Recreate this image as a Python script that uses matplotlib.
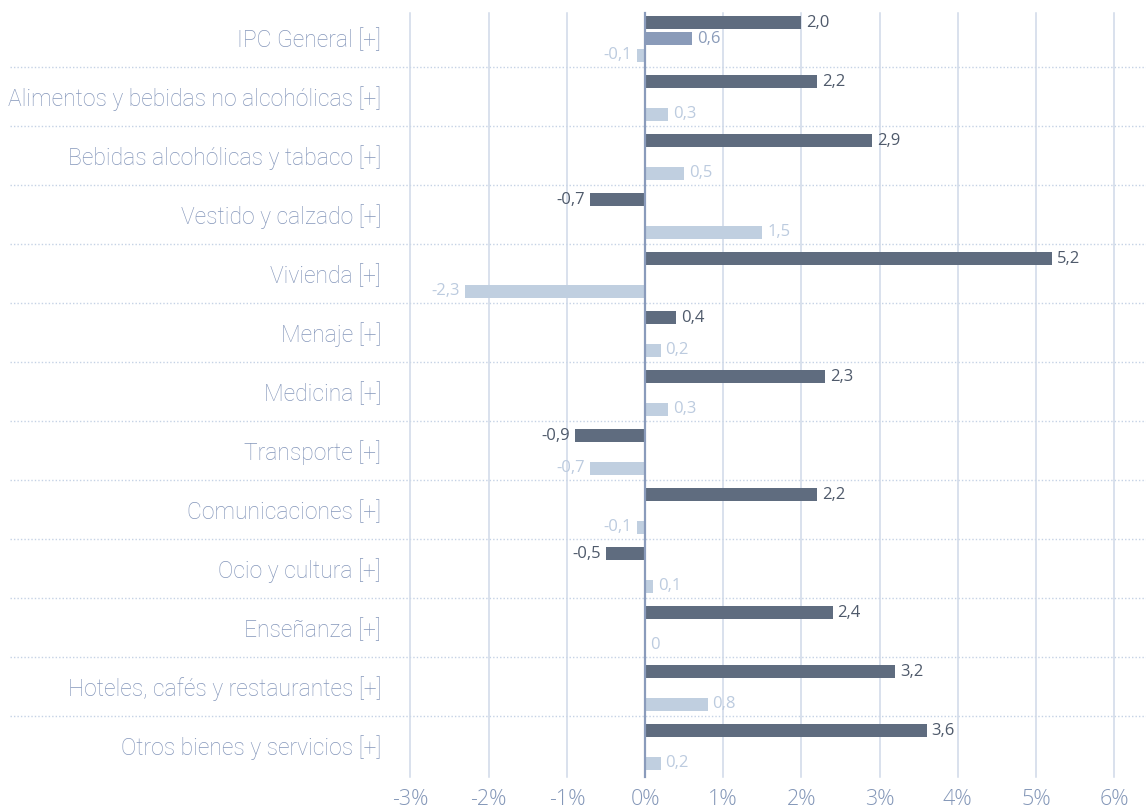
import numpy as np
import matplotlib
matplotlib.use("Agg")
import matplotlib.pyplot as plt
import matplotlib.transforms as mtransforms

plt.rcParams['font.family'] = ['Roboto', 'DejaVu Sans']

categories = [
    "IPC General [+]",
    "Alimentos y bebidas no alcohólicas [+]",
    "Bebidas alcohólicas y tabaco [+]",
    "Vestido y calzado [+]",
    "Vivienda [+]",
    "Menaje [+]",
    "Medicina [+]",
    "Transporte [+]",
    "Comunicaciones [+]",
    "Ocio y cultura [+]",
    "Enseñanza [+]",
    "Hoteles, cafés y restaurantes [+]",
    "Otros bienes y servicios [+]",
]
serie_oscura = [2.0, 2.2, 2.9, -0.7, 5.2, 0.4, 2.3, -0.9, 2.2, -0.5, 2.4, 3.2, 3.6]
serie_media = [0.6, None, None, None, None, None, None, None, None, None, None, None, None]
serie_clara = [-0.1, 0.3, 0.5, 1.5, -2.3, 0.2, 0.3, -0.7, -0.1, 0.1, 0.0, 0.8, 0.2]
x_ticks = [-3, -2, -1, 0, 1, 2, 3, 4, 5, 6]

W, H = 1146, 810
fig = plt.figure(figsize=(W / 100, H / 100), dpi=100)
ax = fig.add_axes([395 / W, 1 - 775 / H, 751 / W, 767 / H])

n = len(categories)
y = np.arange(n)
bar_h = 0.22
series = [
    (serie_oscura, -0.246, '#5f6c7f', '#4f5a6b'),
    (serie_media, 0.025, '#8a9bb9', '#8a9bb9'),
    (serie_clara, 0.305, '#c0cfe0', '#bccbdf'),
]

num_font = ['Open Sans', 'DejaVu Sans']

for vals, off, col, tcol in series:
    for i, v in enumerate(vals):
        if v is None:
            continue
        ax.barh(y[i] + off, v, height=bar_h, color=col, zorder=3)
        txt = f"{v:.1f}".replace('.', ',') if v != 0 else "0"
        if v >= 0:
            ax.annotate(txt, (v, y[i] + off), xytext=(3.5, 0), textcoords='offset points',
                        ha='left', va='center', color=tcol, fontsize=12,
                        family=num_font, zorder=4)
        else:
            ax.annotate(txt, (v, y[i] + off), xytext=(-3.5, 0), textcoords='offset points',
                        ha='right', va='center', color=tcol, fontsize=12,
                        family=num_font, zorder=4)

ax.set_xlim((395 - 645) / 78.2, (1146 - 645) / 78.2)
ax.set_ylim(n - 0.5, -0.5)

# vertical grid
for t in x_ticks:
    if t == 0:
        ax.axvline(0, ymin=-0.003, ymax=0.994, color='#8a9bbb', lw=1.6, zorder=5, clip_on=False)
    else:
        ax.axvline(t, ymin=-0.003, ymax=0.994, color='#cfd9e8', lw=1.1, zorder=1, clip_on=False)

# dotted separators spanning labels
trans = mtransforms.blended_transform_factory(fig.transFigure, ax.transData)
for i in range(n - 1):
    ax.plot([10 / W, 1.0], [i + 0.5, i + 0.5], transform=trans, color='#c5d2e5',
            lw=1.0, ls=(0, (1, 1.5)), clip_on=False, zorder=0)

ax.set_xticks(x_ticks)
ax.set_xticklabels([f"{t}%" for t in x_ticks], color='#8497b8', fontsize=15.5,
                   family=num_font, fontweight='light')
ax.tick_params(axis='x', length=0, pad=10)
ax.set_yticks(y)
ax.set_yticklabels(categories, color='#8496ba', fontsize=16.5, fontweight='light')
ax.tick_params(axis='y', length=0, pad=10)
for s in ax.spines.values():
    s.set_visible(False)

fig.savefig("out.png", dpi=100)
